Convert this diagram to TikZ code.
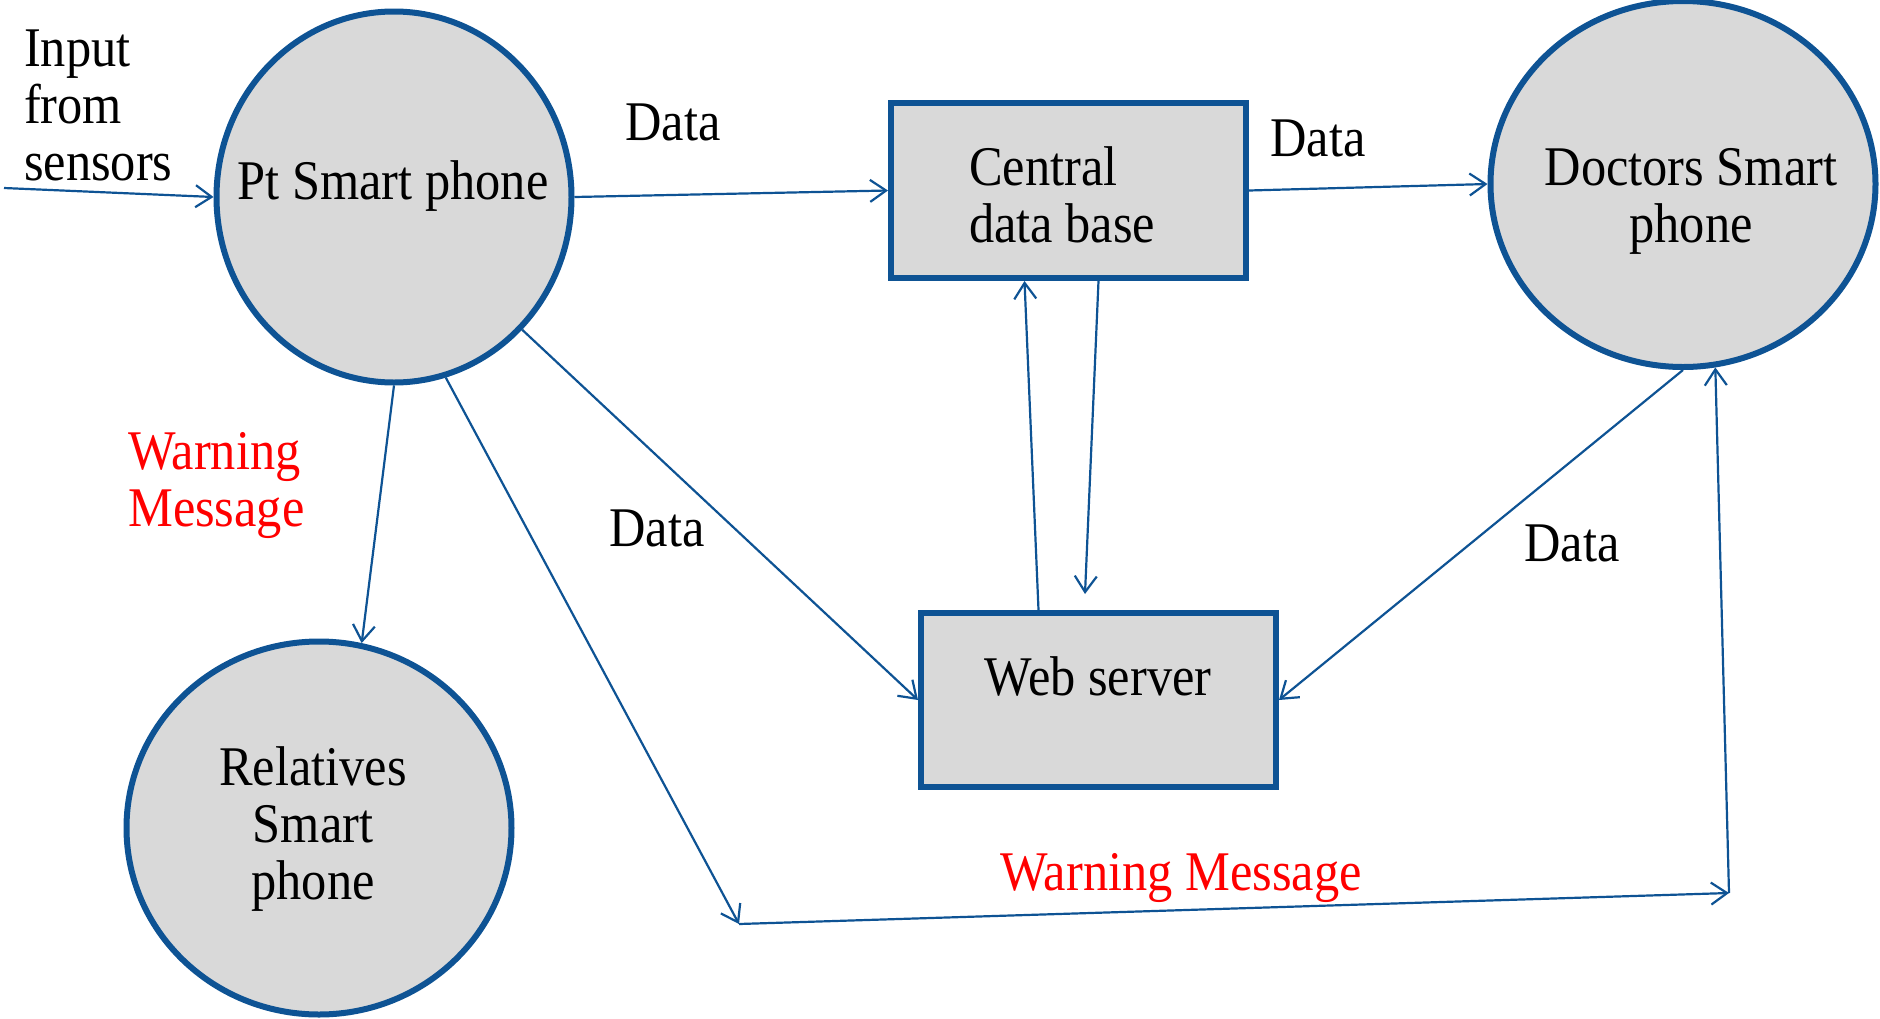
\documentclass[tikz,border=0pt]{standalone}
\usepackage{fontspec}
\setmainfont{Liberation Serif}[FakeStretch=0.9]
\usetikzlibrary{shapes.geometric,arrows.meta}
\definecolor{dblue}{RGB}{14,83,148}
\definecolor{boxgray}{RGB}{217,217,217}
\definecolor{warnred}{RGB}{255,0,0}
\begin{document}
\begin{tikzpicture}[x=1pt,y=-1pt,
  bubble/.style={ellipse,draw=dblue,fill=boxgray,line width=6pt,inner sep=0pt},
  store/.style={rectangle,draw=dblue,fill=boxgray,line width=6pt,inner sep=0pt},
  txt/.style={inner sep=0pt,font=\fontsize{56}{57}\selectfont},
  flow/.style={draw=dblue,line width=2.2pt,-{Straight Barb[length=16pt,width=22pt]}},
]
\useasboundingbox (0,0) rectangle (1880,1018);
% shapes
\node[bubble,minimum width=355pt,minimum height=371pt] (pt) at (394,197) {};
\node[bubble,minimum width=385pt,minimum height=366pt] (doc) at (1683,184) {};
\node[bubble,minimum width=385pt,minimum height=373pt] (rel) at (319,828) {};
\node[store,minimum width=355pt,minimum height=175pt] (cdb) at (1068.5,190.5) {};
\node[store,minimum width=355pt,minimum height=174pt] (ws) at (1098.5,700) {};
% texts (base = baseline of the last line)
\node[txt,anchor=base west,align=left] (inp) at (24,180) {Input\\from\\sensors};
\node[txt,anchor=base] (ptt) at (393,199) {Pt Smart phone};
\node[txt,anchor=base west,align=left] (cdbt) at (969,242) {Central\\data base};
\node[txt,anchor=base,align=center] (doct) at (1691,242) {Doctors Smart\\phone};
\node[txt,anchor=base] (wst) at (1098,695) {Web server};
\node[txt,anchor=base,align=center] (relt) at (313,899) {Relatives\\Smart\\phone};
\node[txt,anchor=base west,align=left,text=warnred] (w1) at (128,526) {Warning\\Message};
\node[txt,anchor=base,text=warnred] (w2) at (1181,890) {Warning Message};
\node[txt,anchor=base] (d1) at (673,140) {Data};
\node[txt,anchor=base] (d2) at (1318,156) {Data};
\node[txt,anchor=base] (d3) at (657,546) {Data};
\node[txt,anchor=base] (d4) at (1572,561) {Data};
% free ends and corners
\coordinate (in) at (4,188);
\coordinate (c1) at (739,924);
\coordinate (c2) at (1729,893);
\coordinate (wsin) at (1085,594);
% connectors
\draw[flow] (in) -- (pt.180);
\draw[flow] (pt.0) -- (cdb.west);
\draw[flow] (cdb.east) -- (doc.180);
\draw[flow] (pt.-90) -- (rel.77);
\draw[flow] (pt.-46.5) -- (ws.west);
\draw[flow] (pt.-74) -- (c1);
\draw[flow] (c1) -- (c2);
\draw[flow] (c2) -- (doc.-80);
\draw[flow] ([xshift=-60pt]ws.north) -- ([xshift=-44pt]cdb.south);
\draw[flow] ([xshift=30pt]cdb.south) -- (wsin);
\draw[flow] (doc.-90) -- (ws.east);
\end{tikzpicture}
\end{document}
